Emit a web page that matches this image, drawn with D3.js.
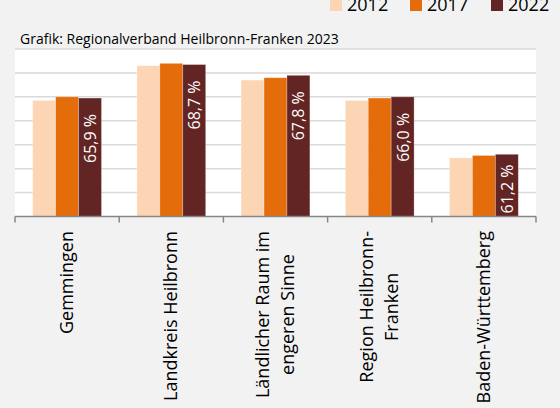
<!DOCTYPE html>
<html>
<head>
<meta charset="utf-8">
<script src="https://cdn.jsdelivr.net/npm/d3@7"></script>
<style>
  html, body { margin: 0; padding: 0; background: #f2f2f2; }
  svg { display: block; font-family: "Open Sans", sans-serif; }
</style>
</head>
<body>
<div id="chart"></div>
<script>
// data
var categories = ["Gemmingen", "Landkreis Heilbronn", "Ländlicher Raum im\nengeren Sinne", "Region Heilbronn-\nFranken", "Baden-Württemberg"];
var years = ["2012", "2017", "2022"];
var values2012 = [65.7, 68.6, 67.4, 65.7, 60.9];
var values2017 = [66.0, 68.8, 67.6, 65.9, 61.1];
var values2022 = [65.9, 68.7, 67.8, 66.0, 61.2];
var labels2022 = ["65,9 %", "68,7 %", "67,8 %", "66,0 %", "61,2 %"];
var yTicks = [56, 58, 60, 62, 64, 66, 68, 70];
var colors = ["#fcd5b5", "#e46c0a", "#632523"];

var width = 560, height = 408;
var plot = {left: 15, right: 536, top: 49, bottom: 216.5};

var svg = d3.select("#chart")
    .append("svg")
    .attr("width", width)
    .attr("height", height);

// plot area
svg.append("rect")
    .attr("x", plot.left)
    .attr("y", plot.top)
    .attr("width", plot.right - plot.left)
    .attr("height", plot.bottom - plot.top)
    .style("fill", "#ffffff");

var x0 = d3.scaleBand()
    .domain(categories)
    .range([plot.left, plot.right])
    .paddingInner(0.34)
    .paddingOuter(0.17);

var x1 = d3.scaleBand()
    .domain(years)
    .range([0, x0.bandwidth()]);

var y = d3.scaleLinear()
    .domain([56, 70])
    .range([plot.bottom, plot.top]);

// gridlines
svg.append("g")
    .selectAll("line")
    .data(yTicks.slice(1))
    .enter()
    .append("line")
    .attr("x1", plot.left)
    .attr("x2", plot.right)
    .attr("y1", function(d) { return y(d); })
    .attr("y2", function(d) { return y(d); })
    .style("stroke", "#d9d9d9")
    .style("stroke-width", 1.5);

// bars
var rows = categories.map(function(c, i) {
    return {cat: c, vals: [values2012[i], values2017[i], values2022[i]], label: labels2022[i]};
});

var groups = svg.append("g")
    .selectAll("g")
    .data(rows)
    .enter()
    .append("g")
    .attr("transform", function(d) { return "translate(" + x0(d.cat) + ",0)"; });

groups.selectAll("rect")
    .data(function(d) { return d.vals.map(function(v, j) { return {year: years[j], v: v, j: j}; }); })
    .enter()
    .append("rect")
    .attr("x", function(d) { return x1(d.year); })
    .attr("y", function(d) { return y(d.v); })
    .attr("width", x1.bandwidth())
    .attr("height", function(d) { return y(56) - y(d.v); })
    .style("fill", function(d) { return colors[d.j]; })
    .style("stroke", "#ffffff")
    .style("stroke-opacity", 0.35)
    .style("stroke-width", 0.75);

// value labels inside the 2022 bars
groups.append("text")
    .attr("fill", "#ffffff")
    .style("font-size", "16px")
    .attr("text-anchor", "end")
    .text(function(d) { return d.label; })
    .each(function(d) {
        var len = this.getComputedTextLength();
        var cx = x1("2022") + x1.bandwidth() / 2;
        var endY = Math.min(y(d.vals[2]) + 16, y(56) - 3 - len);
        d3.select(this)
            .attr("transform", "translate(" + (cx + 6) + "," + endY + ") rotate(-90)");
    });

// x axis
var xAxis = svg.append("g");
xAxis.append("line")
    .attr("x1", plot.left)
    .attr("x2", plot.right)
    .attr("y1", plot.bottom)
    .attr("y2", plot.bottom)
    .style("stroke", "#868686")
    .style("stroke-width", 1.5);

var step = x0.step();
var tickXs = d3.range(categories.length + 1).map(function(i) { return plot.left + i * step; });
xAxis.selectAll(".tick")
    .data(tickXs)
    .enter()
    .append("line")
    .attr("x1", function(d) { return d; })
    .attr("x2", function(d) { return d; })
    .attr("y1", plot.bottom)
    .attr("y2", plot.bottom + 6)
    .style("stroke", "#868686")
    .style("stroke-width", 1.5);

// category labels (rotated, block aligned to the axis)
var labelTop = 231;
categories.forEach(function(c) {
    var lines = c.split("\n");
    var cx = x0(c) + x0.bandwidth() / 2;
    var g = svg.append("g");
    var texts = lines.map(function(l) {
        return g.append("text")
            .style("font-size", "18px")
            .attr("fill", "#000")
            .attr("text-anchor", "middle")
            .text(l);
    });
    var maxLen = d3.max(texts, function(t) { return t.node().getComputedTextLength(); });
    var lineH = 25;
    var first = cx - (lines.length - 1) * lineH / 2;
    texts.forEach(function(t, i) {
        t.attr("transform", "translate(" + (first + i * lineH + 6) + "," + (labelTop + maxLen / 2) + ") rotate(-90)");
    });
});

// title
svg.append("text")
    .attr("x", 20)
    .attr("y", 44)
    .style("font-size", "14px")
    .attr("fill", "#000")
    .text("Grafik: Regionalverband Heilbronn-Franken 2023");

// legend
var legendX = [330, 410, 491];
var legend = svg.append("g")
    .selectAll("g")
    .data(years)
    .enter()
    .append("g")
    .attr("transform", function(d, i) { return "translate(" + legendX[i] + ",0)"; });

legend.append("rect")
    .attr("x", 0)
    .attr("y", -1)
    .attr("width", 12)
    .attr("height", 12)
    .style("fill", function(d, i) { return colors[i]; });

legend.append("text")
    .attr("x", 17)
    .attr("y", 11)
    .style("font-size", "18px")
    .attr("fill", "#000")
    .text(function(d) { return d; });
</script>
</body>
</html>
